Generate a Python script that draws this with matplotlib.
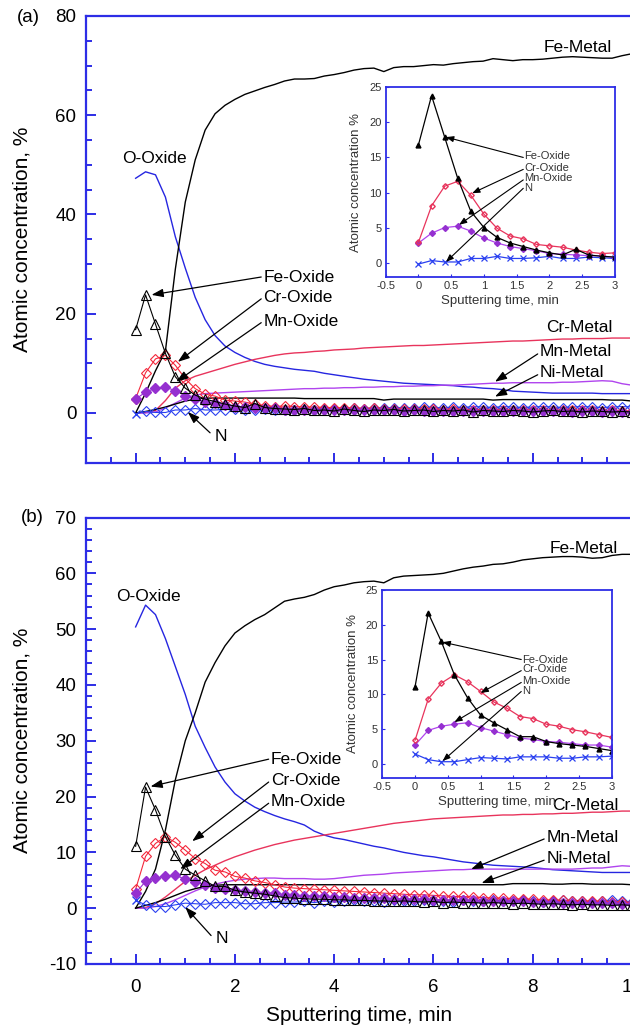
import numpy as np
import matplotlib.pyplot as plt
from matplotlib.ticker import MultipleLocator, FuncFormatter

plt.rcParams['font.family'] = ['Liberation Sans', 'DejaVu Sans']
plt.rcParams['axes.unicode_minus'] = False

# sputtering time grids (min): inset range and the rest of the main plot
t_in = np.round(np.arange(0, 3.01, 0.2), 1)
t_tail = np.round(np.arange(3.2, 10.01, 0.2), 1)
t_main = np.concatenate([t_in, t_tail])

# ---------------- panel (a) ----------------
a_fe_metal = [0.0, 4.0, 8.5, 12.5, 29.0, 42.5, 51.0, 57.0, 60.3, 62.0,
              63.2, 64.2, 64.9, 65.6, 66.2, 66.9, 67.3, 67.3, 67.4, 67.9,
              68.2, 68.6, 69.1, 69.4, 69.5, 68.8, 69.6, 69.8, 69.8, 70.0,
              70.2, 70.1, 70.4, 70.6, 70.8, 70.9, 71.4, 71.2, 71.0, 71.2,
              71.2, 71.3, 71.5, 71.7, 71.8, 71.7, 71.6, 71.5, 71.5, 72.0,
              72.4]
a_o_oxide = [47.3, 48.6, 48.0, 43.5, 35.5, 29.2, 23.3, 18.8, 15.6, 13.5,
             12.2, 11.2, 10.4, 9.8, 9.4, 9.1, 8.8, 8.6, 8.4, 8.0,
             7.7, 7.4, 7.1, 6.8, 6.6, 6.4, 6.2, 6.0, 5.9, 5.8,
             5.7, 5.6, 5.5, 5.3, 5.2, 5.0, 4.9, 4.7, 4.4, 4.3,
             4.2, 4.1, 4.0, 4.0, 4.0, 4.0, 4.0, 3.9, 3.9, 3.9,
             3.9]
a_cr_metal = [0.0, 0.1, 0.5, 2.5, 5.0, 6.5, 7.4, 8.0, 8.6, 9.2,
              9.8, 10.3, 10.8, 11.2, 11.6, 11.9, 12.1, 12.2, 12.4, 12.5,
              12.7, 12.8, 12.9, 13.1, 13.2, 13.3, 13.4, 13.5, 13.6, 13.6,
              13.7, 13.8, 13.9, 14.0, 14.1, 14.2, 14.3, 14.4, 14.5, 14.5,
              14.6, 14.7, 14.8, 14.9, 14.9, 15.0, 15.0, 15.0, 15.1, 15.1,
              15.1]
a_mn_metal = [0.0, 0.0, 0.2, 1.0, 2.0, 3.0, 3.6, 3.9, 4.0, 4.1,
              4.2, 4.3, 4.4, 4.5, 4.6, 4.7, 4.8, 4.9, 4.9, 5.0,
              5.0, 5.1, 5.1, 5.2, 5.2, 5.3, 5.3, 5.4, 5.4, 5.5,
              5.5, 5.6, 5.6, 5.7, 5.8, 5.9, 6.0, 6.0, 6.1, 6.1,
              6.1, 6.1, 6.1, 6.2, 6.2, 6.3, 6.4, 6.5, 6.4, 5.9,
              5.6]
a_ni_metal = [0.0, 0.3, 0.7, 1.2, 1.8, 2.4, 2.8, 3.0, 3.0, 3.0,
              3.0, 3.0, 3.0, 3.0, 3.0, 3.0, 3.0, 2.9, 2.9, 2.9,
              2.9, 2.9, 2.9, 2.9, 2.9, 2.6, 2.8, 2.8, 2.8, 2.8,
              2.8, 2.8, 2.8, 2.8, 2.8, 2.8, 2.6, 2.7, 2.7, 2.7,
              2.7, 2.7, 2.7, 2.7, 2.7, 2.7, 2.7, 2.7, 2.6, 2.6,
              2.4]
# oxides, 0-3 min (also shown in the inset)
a_fe_ox_in = [16.8, 23.8, 17.9, 12.0, 7.3, 5.0, 3.6, 2.8, 2.3, 1.8, 1.4, 1.1, 1.9, 1.1, 0.9, 0.8]
a_cr_ox_in = [2.9, 8.1, 10.9, 11.6, 9.6, 6.9, 4.9, 3.8, 3.4, 2.6, 2.4, 2.2, 1.8, 1.5, 1.3, 1.4]
a_mn_ox_in = [2.8, 4.2, 5.0, 5.2, 4.5, 3.5, 2.8, 2.3, 2.0, 1.7, 1.3, 1.2, 1.1, 1.0, 1.0, 0.7]
a_n_in = [-0.2, 0.3, 0.1, 0.1, 0.6, 0.6, 0.9, 0.6, 0.6, 0.7, 0.9, 0.6, 0.6, 0.8, 0.7, 0.6]
# oxides, 3.2-10 min
a_fe_ox_tail = [0.7, 0.9, 0.5, 0.6, 0.4, 0.8, 0.5, 0.3, 0.6, 0.5,
                0.7, 0.4, 0.5, 0.6, 0.3, 0.5, 0.4, 0.6, 0.2, 0.5,
                0.4, 0.3, 0.5, 0.4, 0.2, 0.4, 0.5, 0.3, 0.4, 0.2,
                0.4, 0.3, 0.2, 0.3, 0.2]
a_cr_ox_tail = [1.3, 1.2, 1.2, 1.1, 1.1, 1.0, 1.0, 0.9, 1.0, 0.9,
                0.9, 0.8, 0.9, 0.8, 0.8, 0.7, 0.8, 0.7, 0.7, 0.7,
                0.6, 0.7, 0.6, 0.6, 0.6, 0.5, 0.6, 0.5, 0.5, 0.5,
                0.5, 0.4, 0.5, 0.4, 0.4]
a_mn_ox_tail = [0.7, 0.7, 0.6, 0.6, 0.6, 0.5, 0.6, 0.5, 0.5, 0.5,
                0.5, 0.4, 0.5, 0.4, 0.4, 0.4, 0.4, 0.4, 0.3, 0.4,
                0.3, 0.3, 0.3, 0.4, 0.3, 0.3, 0.3, 0.3, 0.2, 0.3,
                0.3, 0.2, 0.3, 0.2, 0.2]
a_n_tail = [0.7, 0.8, 0.7, 0.9, 0.8, 0.9, 1.0, 0.9, 1.0, 1.1,
            1.0, 1.1, 1.0, 1.2, 1.1, 1.0, 1.2, 1.1, 1.3, 1.2,
            1.1, 1.3, 1.2, 1.1, 1.2, 1.3, 1.2, 1.1, 1.2, 1.3,
            1.2, 1.1, 1.2, 1.3, 1.2]

# ---------------- panel (b) ----------------
b_fe_metal = [0.0, 3.0, 7.0, 14.0, 23.0, 30.0, 35.0, 40.5, 44.0, 47.0,
              49.3, 50.6, 51.7, 52.6, 53.8, 55.0, 55.4, 55.7, 56.2, 57.0,
              57.6, 57.9, 58.3, 58.5, 58.6, 58.3, 59.2, 59.5, 59.6, 59.7,
              59.8, 60.0, 60.4, 60.8, 61.1, 61.3, 61.6, 61.7, 62.0, 62.4,
              62.6, 62.8, 62.9, 63.0, 63.0, 62.9, 62.7, 62.8, 63.2, 63.4,
              63.4]
b_o_oxide = [50.4, 54.3, 52.6, 48.3, 43.3, 38.3, 32.6, 28.8, 25.3, 22.6,
             20.5, 19.2, 18.1, 17.3, 16.6, 16.0, 15.5, 14.9, 13.8, 13.1,
             12.6, 12.3, 11.9, 11.5, 11.1, 10.8, 10.4, 10.0, 9.7, 9.4,
             9.2, 8.9, 8.6, 8.3, 8.1, 7.9, 7.7, 7.6, 7.5, 7.4,
             7.3, 7.1, 6.9, 6.8, 6.7, 6.6, 6.5, 6.4, 6.4, 6.4,
             6.4]
b_cr_metal = [0.0, 0.1, 0.8, 2.0, 3.4, 4.8, 5.9, 6.9, 7.7, 8.5,
              9.2, 9.8, 10.4, 10.9, 11.4, 11.8, 12.2, 12.5, 12.8, 13.1,
              13.4, 13.7, 14.0, 14.3, 14.6, 14.9, 15.2, 15.4, 15.6, 15.8,
              16.0, 16.1, 16.2, 16.3, 16.4, 16.5, 16.6, 16.7, 16.7, 16.8,
              16.8, 16.9, 16.9, 17.0, 17.0, 17.1, 17.2, 17.2, 17.3, 17.4,
              17.4]
b_mn_metal = [0.0, 0.0, 0.3, 0.8, 1.5, 2.3, 3.1, 3.8, 4.3, 4.7,
              5.0, 5.2, 5.3, 5.4, 5.4, 5.3, 5.3, 5.3, 5.2, 5.2,
              5.3, 5.5, 5.7, 5.9, 6.0, 6.1, 6.3, 6.4, 6.5, 6.6,
              6.7, 6.8, 6.9, 6.9, 7.0, 7.0, 7.0, 7.0, 7.0, 7.0,
              7.0, 7.0, 7.0, 7.0, 7.0, 7.1, 7.2, 7.2, 7.4, 7.6,
              7.5]
b_ni_metal = [0.0, 0.5, 1.0, 1.6, 2.3, 3.0, 3.5, 3.9, 4.1, 4.2,
              4.2, 4.2, 4.2, 4.2, 4.2, 4.2, 4.2, 4.2, 4.2, 4.2,
              4.2, 4.2, 4.2, 4.2, 4.2, 4.2, 4.2, 4.2, 4.2, 4.2,
              4.2, 4.2, 4.2, 4.2, 4.2, 4.2, 4.2, 4.2, 4.4, 4.4,
              4.4, 4.4, 4.3, 4.3, 4.4, 4.4, 4.3, 4.3, 4.3, 4.3,
              4.2]
b_fe_ox_in = [11.1, 21.7, 17.6, 12.8, 9.5, 7.0, 5.9, 4.9, 3.9, 3.9, 3.2, 2.9, 2.7, 2.5, 2.2, 1.9]
b_cr_ox_in = [3.4, 9.3, 11.6, 12.8, 11.8, 10.4, 8.9, 8.0, 6.8, 6.5, 5.7, 5.4, 4.9, 4.6, 4.2, 3.8]
b_mn_ox_in = [2.7, 4.8, 5.4, 5.7, 5.9, 5.2, 4.7, 4.2, 3.7, 3.5, 3.2, 3.1, 2.9, 2.7, 2.7, 2.4]
b_n_in = [1.4, 0.6, 0.3, 0.3, 0.6, 0.9, 0.8, 0.7, 1.0, 1.0, 1.0, 0.8, 0.8, 1.0, 1.0, 1.1]
b_fe_ox_tail = [1.8, 1.7, 1.6, 1.6, 1.5, 1.5, 1.4, 1.4, 1.3, 1.3,
                1.2, 1.3, 1.2, 1.1, 1.2, 1.0, 1.1, 1.0, 1.0, 0.9,
                1.0, 0.9, 0.8, 0.9, 0.8, 0.7, 0.8, 0.7, 0.6, 0.7,
                0.6, 0.6, 0.5, 0.6, 0.5]
b_cr_ox_tail = [3.6, 3.5, 3.4, 3.3, 3.2, 3.1, 3.0, 2.9, 2.8, 2.7,
                2.6, 2.5, 2.4, 2.4, 2.3, 2.2, 2.1, 2.1, 2.0, 1.9,
                1.8, 1.8, 1.7, 1.6, 1.6, 1.5, 1.4, 1.4, 1.3, 1.3,
                1.2, 1.2, 1.1, 1.1, 1.0]
b_mn_ox_tail = [2.3, 2.2, 2.2, 2.1, 2.0, 2.0, 1.9, 1.9, 1.8, 1.8,
                1.7, 1.7, 1.6, 1.6, 1.5, 1.5, 1.4, 1.4, 1.4, 1.3,
                1.3, 1.2, 1.2, 1.2, 1.1, 1.1, 1.1, 1.0, 1.0, 1.0,
                0.9, 0.9, 0.9, 0.8, 0.8]
b_n_tail = [1.1, 1.2, 1.0, 1.3, 1.1, 1.2, 1.4, 1.2, 1.3, 1.1,
            1.4, 1.2, 1.3, 1.5, 1.2, 1.3, 1.1, 1.4, 1.2, 1.3,
            1.5, 1.3, 1.2, 1.4, 1.3, 1.1, 1.3, 1.4, 1.2, 1.3,
            1.1, 1.3, 1.4, 1.2, 1.1]

AXBLUE = '#2d2de6'
RED_OX = '#f4283c'
RED_MT = '#e8345c'
PUR_OX = '#9530d0'
PUR_MT = '#b044ee'
BLUE_N = '#2a40f0'
BLUE_O = '#2626e0'
INK = '#333333'


def arrow(ax, start, tip, scale=10, hl=0.7, hw=0.25, lw=0.9):
    ax.annotate('', xy=tip, xytext=start,
                arrowprops=dict(arrowstyle=f'-|>,head_length={hl},head_width={hw}',
                                color='k', lw=lw, shrinkA=0, shrinkB=0,
                                mutation_scale=scale), zorder=6)


def draw_main(ax, fe_m, o_ox, cr_m, mn_m, ni_m, fe_ox, cr_ox, mn_ox, n):
    ax.plot(t_main, o_ox, color=BLUE_O, lw=1.0)
    ax.plot(t_main, cr_m, color=RED_MT, lw=1.0)
    ax.plot(t_main, mn_m, color=PUR_MT, lw=1.0)
    ax.plot(t_main, ni_m, color='k', lw=1.0)
    ax.plot(t_main, fe_m, color='k', lw=1.0)
    ax.plot(t_main, n, color=BLUE_N, lw=0.8, marker='D', ms=5, mfc='none',
            mec=BLUE_N, mew=0.8, markevery=slice(1, None))
    ax.plot(t_main[:1], n[:1], ls='none', marker='x', ms=6, mec=BLUE_N, mew=1.0)
    ax.plot(t_main, cr_ox, color=RED_OX, lw=0.8, marker='D', ms=5, mfc='none',
            mec=RED_OX, mew=0.8)
    ax.plot(t_main, mn_ox, color=PUR_OX, lw=0.8, marker='D', ms=5.5, mfc=PUR_OX,
            mec=PUR_OX)
    ax.plot(t_main, fe_ox, color='k', lw=0.8, marker='^', ms=7, mfc='none',
            mec='k', mew=0.8)

    ax.set_xlim(-1, 10)
    ax.xaxis.set_major_locator(MultipleLocator(2))
    ax.xaxis.set_minor_locator(MultipleLocator(0.5))
    for s in ax.spines.values():
        s.set_color(AXBLUE)
        s.set_linewidth(1.6)
    ax.tick_params(which='both', direction='in', color=AXBLUE, width=1.4,
                   top=False, right=False, labelsize=13.5)
    ax.tick_params(axis='y', pad=7)
    ax.tick_params(axis='x', pad=11)
    ax.tick_params(which='major', length=7.5)
    ax.tick_params(which='minor', length=4)
    ax.set_ylabel('Atomic concentration, %', fontsize=15)
    ax.yaxis.set_label_coords(-0.100, 0.5)


def draw_inset(ins, fe, cr, mn, n):
    ins.plot(t_in, n, color=BLUE_N, lw=0.9, marker='x', ms=4, mew=0.9)
    ins.plot(t_in, mn, color=PUR_MT, lw=0.9, marker='D', ms=3, mfc=PUR_OX, mec=PUR_OX)
    ins.plot(t_in, cr, color=RED_MT, lw=0.9, marker='D', ms=2.8, mfc='none', mec=RED_MT)
    ins.plot(t_in, fe, color='k', lw=0.9, marker='^', ms=3.5, mfc='k', mec='k')
    ins.set_xlim(-0.5, 3)
    ins.set_ylim(-2, 25)
    ins.xaxis.set_major_locator(MultipleLocator(0.5))
    ins.yaxis.set_major_locator(MultipleLocator(5))
    ins.xaxis.set_major_formatter(FuncFormatter(lambda v, p: f'{v:g}'))
    for s in ins.spines.values():
        s.set_color(AXBLUE)
        s.set_linewidth(1.3)
    ins.tick_params(direction='in', length=2.5, width=0.8, color=AXBLUE,
                    labelsize=8, labelcolor=INK, pad=3, top=False, right=False)
    ins.set_xlabel('Sputtering time, min', fontsize=9.5, color=INK, labelpad=3)
    ins.set_ylabel('Atomic concentration %', fontsize=9.5, color=INK, labelpad=5)


fig = plt.figure(figsize=(6.3, 10.29), dpi=100)
W, H = 630.0, 1029.0

# ---- (a) ----
ax_a = fig.add_axes([86 / W, 1 - 462.6 / H, 546 / W, 446.6 / H])
draw_main(ax_a, a_fe_metal, a_o_oxide, a_cr_metal, a_mn_metal, a_ni_metal,
          a_fe_ox_in + a_fe_ox_tail, a_cr_ox_in + a_cr_ox_tail,
          a_mn_ox_in + a_mn_ox_tail, a_n_in + a_n_tail)
ax_a.set_ylim(-10, 80)
ax_a.yaxis.set_major_locator(MultipleLocator(20))
ax_a.yaxis.set_minor_locator(MultipleLocator(5))
ax_a.tick_params(labelbottom=False)

lab = dict(fontsize=12.5, va='center', zorder=6)
ax_a.text(-0.28, 51.2, 'O-Oxide', ha='left', **lab)
ax_a.text(2.57, 27.4, 'Fe-Oxide', ha='left', **lab)
ax_a.text(2.57, 23.2, 'Cr-Oxide', ha='left', **lab)
ax_a.text(2.57, 18.4, 'Mn-Oxide', ha='left', **lab)
ax_a.text(1.59, -4.8, 'N', ha='left', **lab)
ax_a.text(9.6, 73.6, 'Fe-Metal', ha='right', **lab)
ax_a.text(9.6, 17.3, 'Cr-Metal', ha='right', **lab)
ax_a.text(8.13, 12.3, 'Mn-Metal', ha='left', **lab)
ax_a.text(8.13, 8.1, 'Ni-Metal', ha='left', **lab)
arrow(ax_a, (2.53, 27.4), (0.32, 23.8))
arrow(ax_a, (2.53, 23.0), (0.85, 10.3))
arrow(ax_a, (2.53, 18.2), (0.82, 6.3))
arrow(ax_a, (1.50, -4.0), (1.05, 0.2))
arrow(ax_a, (8.10, 11.9), (7.24, 6.3))
arrow(ax_a, (8.10, 7.7), (7.24, 3.3))

ins_a = fig.add_axes([385.7 / W, 1 - 276.7 / H, 229.3 / W, 189.4 / H], zorder=5)
draw_inset(ins_a, a_fe_ox_in, a_cr_ox_in, a_mn_ox_in, a_n_in)
ilab = dict(fontsize=8, va='center', ha='left', color=INK)
ins_a.text(1.62, 15.2, 'Fe-Oxide', **ilab)
ins_a.text(1.62, 13.5, 'Cr-Oxide', **ilab)
ins_a.text(1.62, 12.0, 'Mn-Oxide', **ilab)
ins_a.text(1.62, 10.7, 'N', **ilab)
arrow(ins_a, (1.60, 15.0), (0.42, 17.9), scale=5, hl=0.9, hw=0.35, lw=0.8)
arrow(ins_a, (1.60, 13.3), (0.82, 9.9), scale=5, hl=0.9, hw=0.35, lw=0.8)
arrow(ins_a, (1.60, 11.8), (0.62, 5.4), scale=5, hl=0.9, hw=0.35, lw=0.8)
arrow(ins_a, (1.60, 10.6), (0.42, 0.1), scale=5, hl=0.9, hw=0.35, lw=0.8)

# ---- (b) ----
ax_b = fig.add_axes([86 / W, 1 - 964 / H, 546 / W, 446.5 / H])
draw_main(ax_b, b_fe_metal, b_o_oxide, b_cr_metal, b_mn_metal, b_ni_metal,
          b_fe_ox_in + b_fe_ox_tail, b_cr_ox_in + b_cr_ox_tail,
          b_mn_ox_in + b_mn_ox_tail, b_n_in + b_n_tail)
ax_b.set_ylim(-10, 70)
ax_b.yaxis.set_major_locator(MultipleLocator(10))
ax_b.yaxis.set_minor_locator(MultipleLocator(2))
ax_b.set_xlabel('Sputtering time, min', fontsize=15, labelpad=7)

ax_b.text(-0.40, 55.9, 'O-Oxide', ha='left', **lab)
ax_b.text(2.72, 26.7, 'Fe-Oxide', ha='left', **lab)
ax_b.text(2.72, 22.9, 'Cr-Oxide', ha='left', **lab)
ax_b.text(2.72, 19.1, 'Mn-Oxide', ha='left', **lab)
ax_b.text(1.62, -5.5, 'N', ha='left', **lab)
ax_b.text(9.72, 64.5, 'Fe-Metal', ha='right', **lab)
ax_b.text(9.72, 18.4, 'Cr-Metal', ha='right', **lab)
ax_b.text(8.27, 12.7, 'Mn-Metal', ha='left', **lab)
ax_b.text(8.27, 8.9, 'Ni-Metal', ha='left', **lab)
arrow(ax_b, (2.68, 26.7), (0.30, 21.8))
arrow(ax_b, (2.68, 22.6), (1.14, 12.0))
arrow(ax_b, (2.68, 18.8), (0.90, 7.0))
arrow(ax_b, (1.52, -4.9), (1.00, 0.2))
arrow(ax_b, (8.23, 12.4), (6.76, 7.0))
arrow(ax_b, (8.23, 8.6), (6.97, 4.5))

ins_b = fig.add_axes([382.3 / W, 1 - 777.7 / H, 229.4 / W, 187.7 / H], zorder=5)
draw_inset(ins_b, b_fe_ox_in, b_cr_ox_in, b_mn_ox_in, b_n_in)
ins_b.text(1.64, 15.0, 'Fe-Oxide', **ilab)
ins_b.text(1.64, 13.6, 'Cr-Oxide', **ilab)
ins_b.text(1.64, 11.9, 'Mn-Oxide', **ilab)
ins_b.text(1.64, 10.5, 'N', **ilab)
arrow(ins_b, (1.62, 15.0), (0.42, 17.5), scale=5, hl=0.9, hw=0.35, lw=0.8)
arrow(ins_b, (1.62, 13.4), (1.00, 10.2), scale=5, hl=0.9, hw=0.35, lw=0.8)
arrow(ins_b, (1.62, 11.7), (0.60, 6.0), scale=5, hl=0.9, hw=0.35, lw=0.8)
arrow(ins_b, (1.62, 10.4), (0.42, 0.4), scale=5, hl=0.9, hw=0.35, lw=0.8)

fig.text(17 / W, 1 - 18 / H, '(a)', fontsize=13.5, ha='left', va='center')
fig.text(21 / W, 1 - 517.5 / H, '(b)', fontsize=13.5, ha='left', va='center')

fig.savefig('out.png', dpi=100)
plt.close(fig)
